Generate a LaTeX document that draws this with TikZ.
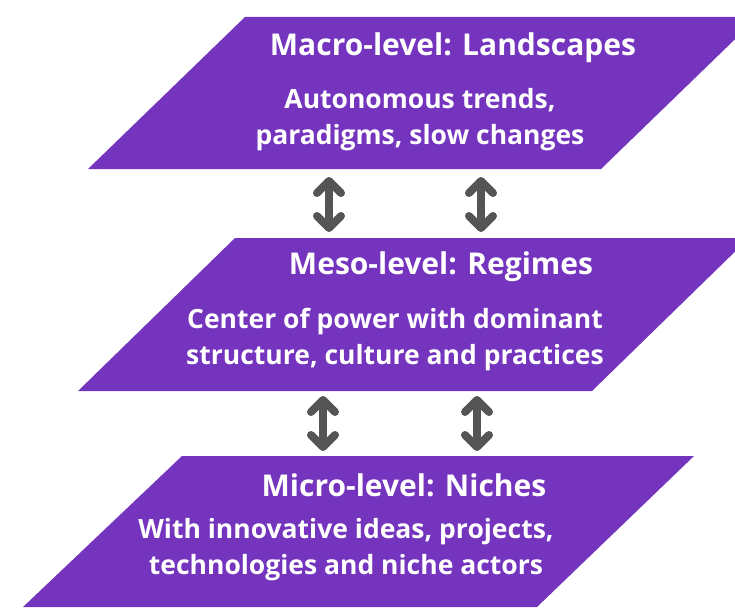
\documentclass[tikz,border=0pt]{standalone}
\usepackage{fontspec}
\setmainfont{Open Sans}
\usepackage{xcolor}
\usepackage{tikz}
\usetikzlibrary{positioning,arrows.meta}

\definecolor{levelpurple}{RGB}{116,52,190}
\definecolor{arrowgray}{RGB}{85,85,85}

\begin{document}
\begin{tikzpicture}[x=1pt, y=-1pt, >={Straight Barb[length=12pt, width=24pt, round]},
    level/.style={fill=levelpurple},
    title/.style={text=white, font=\bfseries\fontsize{30}{34}\selectfont, inner sep=0pt},
    body/.style={text=white, font=\bfseries\fontsize{26.5}{36}\selectfont, align=center, inner sep=0pt},
    updown/.style={<->, draw=arrowgray, line width=8pt, line cap=round}]

\clip (0,0) rectangle (735,607);

% Levels
\fill[level] (245,17) -- (758,17) -- (601,169) -- (88,169) -- cycle;
\fill[level] (235,238) -- (749,238) -- (592,391) -- (78,391) -- cycle;
\fill[level] (182,456) -- (694,456) -- (537,607) -- (23,607) -- cycle;

% Texts
\node[title] (macro) at (453,48) {Macro-level: Landscapes};
\node[body] (macrotext) at (420,120) {Autonomous trends,\\paradigms, slow changes};
\node[title] (meso) at (441,267) {Meso-level: Regimes};
\node[body] (mesotext) at (395,340) {Center of power with dominant\\structure, culture and practices};
\node[title] (micro) at (404,485) {Micro-level: Niches};
\node[body] (microtext) at (346,550) {With innovative ideas, projects,\\technologies and niche actors};

% Arrow ends
\coordinate (macroL) at (329,177);
\coordinate (mesoTL) at (329,232);
\coordinate (macroR) at (481,177);
\coordinate (mesoTR) at (481,232);
\coordinate (mesoL) at (323,396);
\coordinate (microL) at (323,451);
\coordinate (mesoR) at (477,396);
\coordinate (microR) at (477,451);

% Interactions
\draw[updown] (macroL) -- (mesoTL);
\draw[updown] (macroR) -- (mesoTR);
\draw[updown] (mesoL) -- (microL);
\draw[updown] (mesoR) -- (microR);

\end{tikzpicture}
\end{document}
